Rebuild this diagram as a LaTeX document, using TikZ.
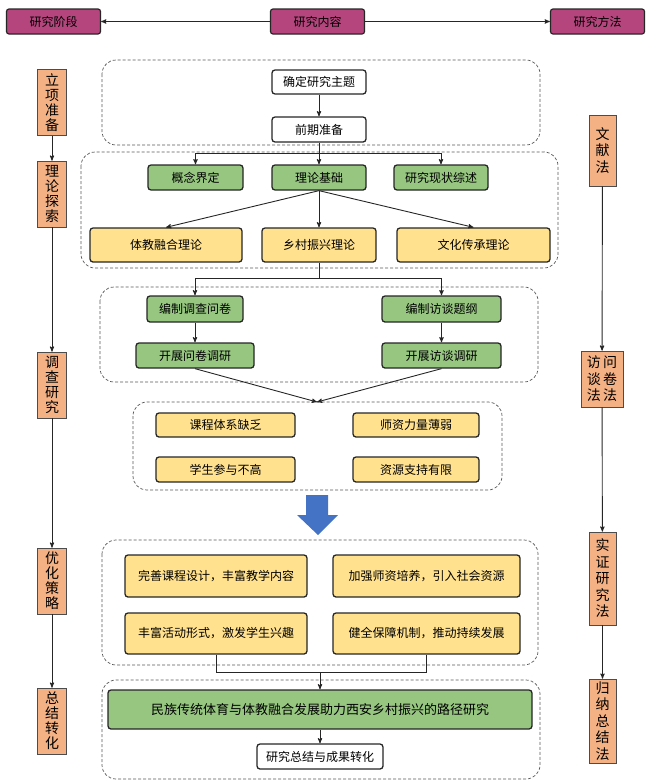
\documentclass[tikz,border=0pt]{standalone}
\usepackage{fontspec}
\setmainfont{Noto Sans CJK SC}
\usetikzlibrary{arrows}
\usetikzlibrary{calc}
\definecolor{magc}{RGB}{181,70,125}
\definecolor{orgc}{RGB}{244,177,132}
\definecolor{grnc}{RGB}{150,198,128}
\definecolor{ylwc}{RGB}{255,225,142}
\definecolor{bluc}{RGB}{68,114,196}
\tikzset{>=stealth'}
\tikzset{head/.style={draw=black!85, line width=1.2pt, fill=magc, rounded corners=2.5pt, minimum width=94, minimum height=25, inner sep=0pt, font=\fontsize{12}{14}\selectfont}}
\tikzset{stagebox/.style={draw=black!70, line width=0.6pt, fill=orgc, minimum width=29, inner sep=0pt, align=center, font=\fontsize{14}{15}\selectfont}}
\tikzset{methbox/.style={draw=black!70, line width=0.6pt, fill=orgc, minimum width=27, inner sep=0pt, align=center, font=\fontsize{14}{16.5}\selectfont}}
\tikzset{box/.style={draw=black!85, line width=1.3pt, rounded corners=3pt, minimum height=25, inner sep=0pt, font=\fontsize{12}{14}\selectfont}}
\tikzset{whtbox/.style={box, fill=white}}
\tikzset{grnbox/.style={box, fill=grnc}}
\tikzset{ylwbox/.style={box, fill=ylwc}}
\tikzset{grp/.style={draw=black!65, line width=0.7pt, dash pattern=on 3pt off 2pt, rounded corners=14pt}}
\tikzset{link/.style={draw=black!85, line width=0.9pt}}

\begin{document}
\begin{tikzpicture}[x=1pt,y=-1pt]
\useasboundingbox (0,0) rectangle (648,782);

% header
\node[head] (stage) at (53.5,21.5) {研究阶段};
\node[head] (content) at (317.5,21.5) {研究内容};
\node[head] (method) at (597.5,21.5) {研究方法};
\draw[link,->] (content) -- (stage);
\draw[link,->] (content) -- (method);

% stages
\node[stagebox, minimum height=66] (s-prep) at (52,102.5) {立\\项\\准\\备};
\node[stagebox, minimum height=66] (s-theo) at (52,194) {理\\论\\探\\索};
\node[stagebox, minimum height=66] (s-surv) at (52,385) {调\\查\\研\\究};
\node[stagebox, minimum height=66] (s-opt) at (52,581) {优\\化\\策\\略};
\node[stagebox, minimum height=66] (s-sum) at (52,721) {总\\结\\转\\化};
\draw[link,->] (s-prep) -- (s-theo);
\draw[link,->] (s-theo) -- (s-surv);
\draw[link,->] (s-surv) -- (s-opt);
\draw[link,->] (s-opt) -- (s-sum);

% methods
\node[methbox, minimum height=71] (m-lit) at (602.5,150.5) {文\\献\\法};
\node[methbox, minimum height=56, minimum width=42] (m-qi) at (602,379) {访\,问\\谈\,卷\\法\,法};
\node[methbox, minimum height=93] (m-emp) at (602.5,578.5) {实\\证\\研\\究\\法};
\node[methbox, minimum height=84] (m-ind) at (602.5,721) {归\\纳\\总\\结\\法};
\draw[link,->] (m-lit) -- (m-qi);
\draw[link,->] (m-qi) -- (m-emp);
\draw[link,->] (m-emp) -- (m-ind);

% groups
\draw[grp] (102,60) rectangle (540,145);
\draw[grp] (81,152) rectangle (558,268);
\draw[grp] (100,287) rectangle (538,382);
\draw[grp] (133,402) rectangle (502,490);
\draw[grp] (102,540) rectangle (538,665);
\draw[grp] (102,680) rectangle (540,779);

% preparation
\node[whtbox, minimum width=94, minimum height=24] (topic) at (319,82) {确定研究主题};
\node[whtbox, minimum width=94] (pre) at (319,129.5) {前期准备};
\draw[link,->] (topic) -- (pre);

% theory
\node[grnbox, minimum width=95] (concept) at (195.5,177.5) {概念界定};
\node[grnbox, minimum width=94] (basis) at (319,177.5) {理论基础};
\node[grnbox, minimum width=94] (review) at (441,177.5) {研究现状综述};
\coordinate (br1) at (319,153);
\draw[link,->] (pre) -- (basis);
\draw[link,->] (br1) -| (concept);
\draw[link,->] (br1) -| (review);

\node[ylwbox, minimum width=152, minimum height=34] (tj) at (166,245) {体教融合理论};
\node[ylwbox, minimum width=114, minimum height=34] (rural) at (319,245) {乡村振兴理论};
\node[ylwbox, minimum width=153, minimum height=34] (cult) at (473.5,245) {文化传承理论};
\draw[link,->] (basis.south) -- (tj.north);
\draw[link,->] (basis.south) -- (rural.north);
\draw[link,->] (basis.south) -- (cult.north);

% survey
\node[grnbox, minimum width=96, minimum height=26] (q-make) at (195,309) {编制调查问卷};
\node[grnbox, minimum width=118] (q-run) at (195,355.5) {开展问卷调研};
\node[grnbox, minimum width=119, minimum height=26] (i-make) at (441.5,309) {编制访谈题纲};
\node[grnbox, minimum width=119] (i-run) at (441.5,355.5) {开展访谈调研};
\coordinate (br2) at (319,278);
\draw[link] (rural) -- (br2);
\draw[link,->] (br2) -| (q-make);
\draw[link,->] (br2) -| (i-make);
\draw[link,->] (q-make) -- (q-run);
\draw[link,->] (i-make) -- (i-run);

% problems
\coordinate (meet) at (317,402);
\draw[link,->] (q-run.south) -- (meet);
\draw[link,->] (i-run.south) -- (meet);
\node[ylwbox, minimum width=139, minimum height=24] (p1) at (225.5,425) {课程体系缺乏};
\node[ylwbox, minimum width=126, minimum height=24] (p2) at (416,425) {师资力量薄弱};
\node[ylwbox, minimum width=139] (p3) at (225.5,469.5) {学生参与不高};
\node[ylwbox, minimum width=126] (p4) at (416,469.5) {资源支持有限};

% big arrow
\fill[bluc] (306,495) -- (328,495) -- (328,515) -- (338,515) -- (318,535) -- (297,515) -- (306,515) -- cycle;

% strategies
\node[ylwbox, minimum width=182, minimum height=42] (st1) at (216,576) {完善课程设计，丰富教学内容};
\node[ylwbox, minimum width=187, minimum height=42] (st2) at (426.5,576) {加强师资培养，引入社会资源};
\node[ylwbox, minimum width=182, minimum height=41] (st3) at (216,633.5) {丰富活动形式，激发学生兴趣};
\node[ylwbox, minimum width=187, minimum height=41] (st4) at (426.5,633.5) {健全保障机制，推动持续发展};
\coordinate (br3) at (320,672);
\draw[link] (st3.south) -- ++(0,18) -| (st4.south);

% conclusion
\node[grnbox, minimum width=424, minimum height=39, font=\fontsize{13}{15}\selectfont] (final) at (320,709.5) {民族传统体育与体教融合发展助力西安乡村振兴的路径研究};
\node[whtbox, minimum width=126] (summ) at (320,756.5) {研究总结与成果转化};
\draw[link,->] (br3) -- (final);
\draw[link,->] (final) -- (summ);
\end{tikzpicture}
\end{document}
